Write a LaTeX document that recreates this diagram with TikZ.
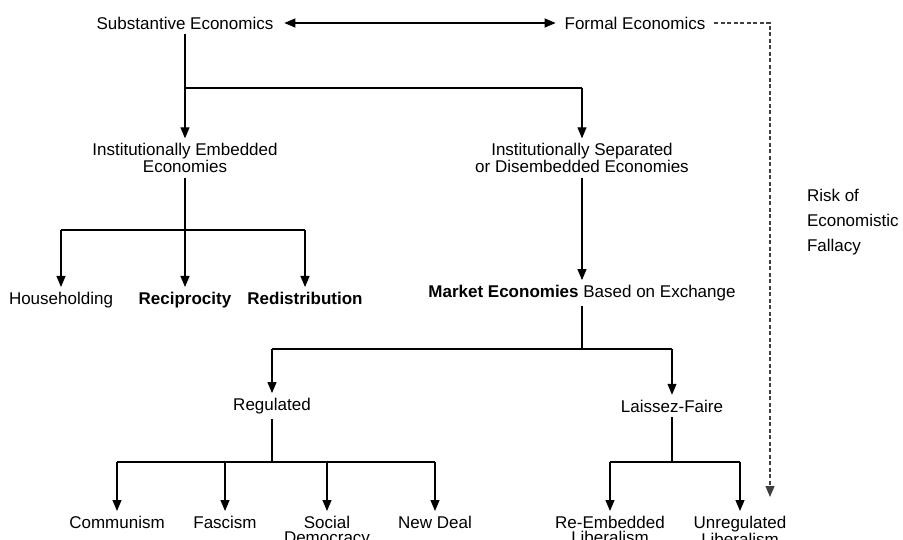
\documentclass[tikz,border=0pt]{standalone}
\usepackage{fontspec}
\setmainfont{Liberation Sans}
\usetikzlibrary{arrows.meta}
\tikzset{
	lbl/.style={inner sep=0pt, outer sep=5pt, align=center, font=\fontsize{17}{15}\selectfont},
	ln/.style={line width=1.2pt},
	arr/.style={ln, -{Triangle[width=9pt,length=11pt]}},
	dasharr/.style={arr, line width=1.3pt, draw=black!75, dash pattern=on 4pt off 2.5pt}
}

\begin{document}
\begin{tikzpicture}[x=1pt,y=-1pt]
	\useasboundingbox (0,0) rectangle (903,540);
	% top row
	\node[lbl] (subst) at (185,23) {Substantive Economics};
	\node[lbl] (formal) at (635,23) {Formal Economics};
	\draw [ln, {Triangle[width=9pt,length=11pt]}-{Triangle[width=9pt,length=11pt]}, shorten <=6pt, shorten >=4pt] (subst) to (formal);
	% second row
	\node[lbl] (embed) at (185,158) {Institutionally Embedded\\Economies};
	\node[lbl] (disemb) at (582,158) {Institutionally Separated\\or Disembedded Economies};
	\coordinate (s1) at (185,88);
	\draw [ln] (subst) to (s1) to (s1 -| disemb);
	\draw [arr] (s1) to (embed);
	\draw [arr] (s1 -| disemb) to (disemb);
	% embedded economies
	\node[lbl, anchor=north] (house) at (61,287) {Householding};
	\node[lbl, anchor=north] (recip) at (185,287) {\textbf{Reciprocity}};
	\node[lbl, anchor=north] (redis) at (305,287) {\textbf{Redistribution}};
	\coordinate (s2) at (185,230);
	\draw [ln] (embed) to (s2);
	\draw [ln] (s2 -| house) to (s2 -| redis);
	\draw [arr] (s2 -| house) to (house);
	\draw [arr] (s2) to (recip);
	\draw [arr] (s2 -| redis) to (redis);
	% market economies
	\node[lbl] (market) at (582,293) {\textbf{Market Economies} Based on Exchange};
	\draw [arr] (disemb) to (market);
	\node[lbl] (reg) at (272,406) {Regulated};
	\node[lbl] (laissez) at (672,406) {Laissez-Faire};
	\coordinate (s3) at (582,349);
	\draw [ln] (market) to (s3);
	\draw [ln] (s3 -| reg) to (s3 -| laissez);
	\draw [arr] (s3 -| reg) to (reg);
	\draw [arr] (s3 -| laissez) to (laissez);
	% regulated
	\node[lbl, anchor=north] (comm) at (117,511) {Communism};
	\node[lbl, anchor=north] (fasc) at (225,511) {Fascism};
	\node[lbl, anchor=north] (socdem) at (327,511) {Social\\Democracy};
	\node[lbl, anchor=north] (newdeal) at (435,511) {New Deal};
	\coordinate (s4) at (272,462);
	\draw [ln] (reg) to (s4);
	\draw [ln] (s4 -| comm) to (s4 -| newdeal);
	\foreach \n in {comm,fasc,socdem,newdeal}
		\draw [arr] (s4 -| \n) to (\n);
	% laissez-faire
	\node[lbl, anchor=north] (reemb) at (610,511) {Re-Embedded\\Liberalism};
	\node[lbl, anchor=north] (unreg) at (740,511) {Unregulated\\Liberalism};
	\coordinate (s5) at (672,462);
	\draw [ln] (laissez) to (s5);
	\draw [ln] (s5 -| reemb) to (s5 -| unreg);
	\draw [arr] (s5 -| reemb) to (reemb);
	\draw [arr] (s5 -| unreg) to (unreg);
	% economistic fallacy
	\coordinate (fcorner) at (770,23);
	\coordinate (fend) at (770,497);
	\draw [dasharr, shorten <=4pt] (formal) to (fcorner) to (fend);
	\node[lbl, align=left, anchor=west, font=\fontsize{17}{25}\selectfont] (risk) at (802,222) {Risk of\\Economistic\\Fallacy};
\end{tikzpicture}
\end{document}
